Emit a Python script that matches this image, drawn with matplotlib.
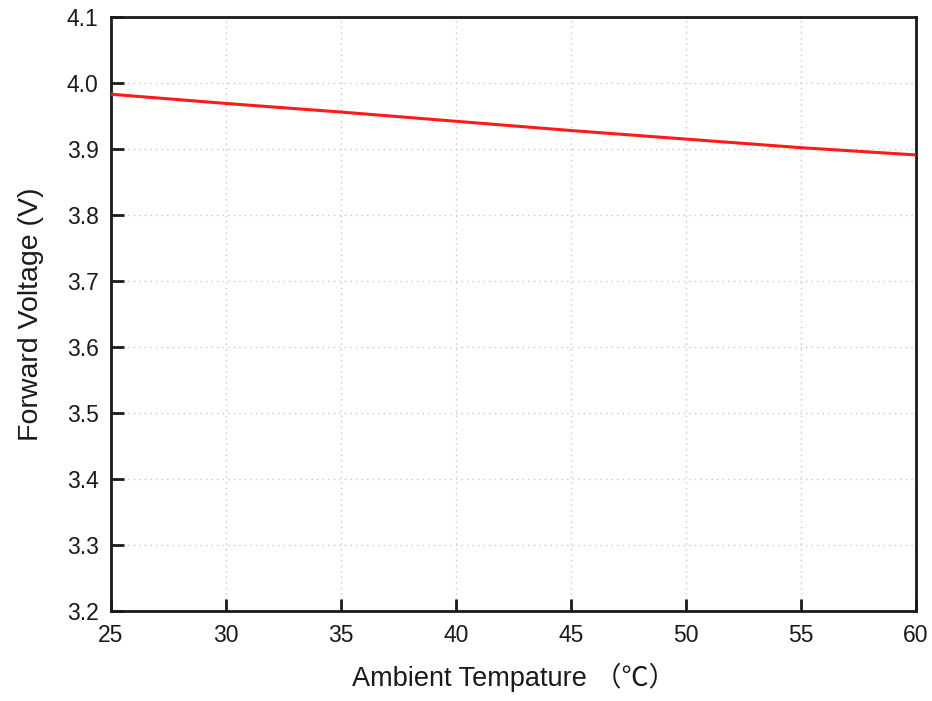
import matplotlib
matplotlib.use("Agg")
import matplotlib.pyplot as plt

temps = [25, 30, 35, 40, 45, 50, 55, 60]
voltage = [3.983, 3.969, 3.956, 3.942, 3.928, 3.915, 3.902, 3.891]
xticks = [25, 30, 35, 40, 45, 50, 55, 60]
yticks = [3.2, 3.3, 3.4, 3.5, 3.6, 3.7, 3.8, 3.9, 4.0, 4.1]

plt.rcParams['font.family'] = ['Liberation Sans', 'Noto Sans CJK SC', 'DejaVu Sans']

fig = plt.figure(figsize=(9.32, 7.01), dpi=100)
ax = fig.add_axes([111/932, 90/701, 805/932, 594/701])

ax.plot(temps, voltage, color='#ff1a1a', lw=2.2, zorder=3)
ax.set_xlim(25, 60)
ax.set_ylim(3.2, 4.1)
ax.set_xticks(xticks)
ax.set_yticks(yticks)
ax.set_yticklabels([f"{v:.1f}" for v in yticks])
ax.grid(True, linestyle=(0, (1, 3)), color='#c8c8c8', lw=1)
ax.tick_params(direction='in', length=9, width=2, labelsize=16.5, colors='#1a1a1a', pad=9)
for s in ax.spines.values():
    s.set_linewidth(2)
    s.set_color('#1a1a1a')

ax.set_xlabel('Ambient Tempature （℃）', fontsize=19.5, color='#1a1a1a', labelpad=12)
ax.set_ylabel('Forward Voltage (V)', fontsize=20.5, color='#1a1a1a', labelpad=16)

fig.savefig('out.png', dpi=100)
